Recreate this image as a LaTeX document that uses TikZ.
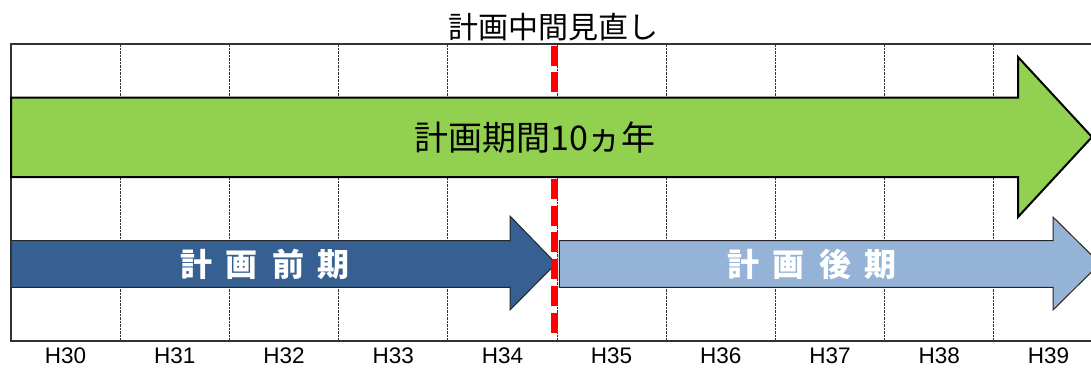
\documentclass[tikz,border=0pt]{standalone}
\usepackage{fontspec}
\setmainfont{Liberation Sans}
\newfontfamily\jp{Noto Sans CJK JP}
\definecolor{arrgreen}{RGB}{146,208,80}
\definecolor{darkblue}{RGB}{54,96,146}
\definecolor{lightblue}{RGB}{149,179,215}
\definecolor{gridgray}{RGB}{50,50,50}
\tikzset{
  gridline/.style={draw=gridgray, line width=1pt, dash pattern=on 2.5pt off 1pt},
  border/.style={draw=gridgray, line width=1.6pt},
  bigarrow/.style={fill=arrgreen, draw=black, line width=2pt, line join=miter},
  phasearrow/.style={draw=black!85, line width=1pt, line join=miter},
  midline/.style={draw=red, line width=7pt, dash pattern=on 20pt off 6.7pt},
  yearlabel/.style={font=\fontsize{22.5}{24}\selectfont, anchor=base, inner sep=0pt},
  phaselabel/.style={font=\jp\bfseries\fontsize{32}{34}\selectfont, text=white, anchor=base, inner sep=0pt}
}
\begin{document}
\begin{tikzpicture}[x=1pt,y=-1pt]
\useasboundingbox (0,0) rectangle (1091,367);
% grid
\foreach \k in {1,...,9} {
  \draw[gridline] ({11+109.2*\k},44) -- ({11+109.2*\k},341);
}
\draw[border] (11,44) -- (1092,44);
\draw[border] (11,341) -- (1092,341);
\draw[border] (11,43.2) -- (11,341.8);
% phase arrows
\draw[phasearrow, fill=darkblue] (11,240.7) -- (510,240.7) -- (510,216) -- (556,263.5) -- (510,310) -- (510,287.3) -- (11,287.3) -- cycle;
\draw[phasearrow, fill=lightblue] (559.3,240.7) -- (1053,240.7) -- (1053,217) -- (1100,263.5) -- (1053,310) -- (1053,287.3) -- (559.3,287.3) -- cycle;
% mid-term review line
\coordinate (rtop) at (554.7,45.5);
\coordinate (rbot) at (554.7,336);
\draw[midline] (rtop) -- (rbot);
% whole-period arrow
\draw[bigarrow] (11,97.5) -- (1018,97.5) -- (1018,57) -- (1092,137) -- (1018,217) -- (1018,177) -- (11,177) -- cycle;
% texts
\node[anchor=base, inner sep=0pt, font=\jp\fontsize{30}{32}\selectfont] (title) at (553,38.5) {計画中間見直し};
\node[anchor=base, inner sep=0pt, font=\jp\fontsize{34}{36}\selectfont] (period) at (535,150.5) {計画期間10ヵ年};
\node[phaselabel] (first) at (265,276) {計\hspace{14pt}画\hspace{14pt}前\hspace{14pt}期};
\node[phaselabel] (second) at (812,276) {計\hspace{14pt}画\hspace{14pt}後\hspace{14pt}期};
\foreach \k/\y in {0/30,1/31,2/32,3/33,4/34,5/35,6/36,7/37,8/38,9/39} {
  \node[yearlabel] (y\y) at ({11+109.2*(\k+0.5)},363.5) {H\y};
}
\end{tikzpicture}
\end{document}
